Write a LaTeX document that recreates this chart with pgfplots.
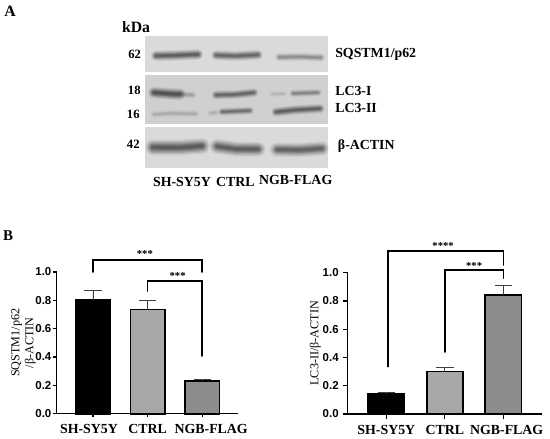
\documentclass[border=0pt]{standalone}
\usepackage{fontspec}
\setmainfont{Liberation Serif}
\newfontfamily\ticksans{Liberation Sans}
\usepackage{pgfplots}
\pgfplotsset{compat=1.18}

\definecolor{barmid}{HTML}{A8A8A8}
\definecolor{bardark}{HTML}{8C8C8C}
\definecolor{gelbg}{HTML}{DADADA}
\definecolor{gelbgb}{HTML}{D0D0D0}
\definecolor{band}{HTML}{202020}

% soft edged blot band: #1 strength, #2 thickness in pt, #3 coordinates
\newcommand{\blotband}[3]{%
  \addplot[no marks,band,opacity=0.07*#1,line width=#2*1.9,line cap=round,line join=round] coordinates {#3};
  \addplot[no marks,band,opacity=0.10*#1,line width=#2*1.6,line cap=round,line join=round] coordinates {#3};
  \addplot[no marks,band,opacity=0.13*#1,line width=#2*1.3,line cap=round,line join=round] coordinates {#3};
  \addplot[no marks,band,opacity=0.16*#1,line width=#2*1.0,line cap=round,line join=round] coordinates {#3};
  \addplot[no marks,band,opacity=0.18*#1,line width=#2*0.75,line cap=round,line join=round] coordinates {#3};
  \addplot[no marks,band,opacity=0.18*#1,line width=#2*0.5,line cap=round,line join=round] coordinates {#3};
  \addplot[no marks,band,opacity=0.16*#1,line width=#2*0.25,line cap=round,line join=round] coordinates {#3};
}

\pgfplotsset{
  barpanel/.style={
    scale only axis, clip=false,
    axis lines*=left, axis line style={line width=0.9pt,-},
    ymin=0, ymax=1,
    ytick={0,0.2,0.4,0.6,0.8,1},
    xtick={0,1,2},
    tick align=outside, major tick length=2.8pt,
    tick style={line width=0.9pt,black},
    /pgf/number format/assume math mode=true,
    /pgf/number format/fixed, /pgf/number format/fixed zerofill, /pgf/number format/precision=1,
    yticklabel style={font=\ticksans\bfseries\fontsize{8.6}{10}\selectfont, inner sep=1pt},
    xticklabel style={font=\bfseries\fontsize{10.4}{12}\selectfont, inner sep=2pt, yshift=-2.8pt},
    ylabel style={font=\fontsize{9.1}{10.6}\selectfont, align=center},
    ybar, bar shift=0pt,
  },
  barser/.style={draw=black, line width=1.25pt, fill=#1,
    error bars/.cd, y dir=plus, y explicit,
    error bar style={line width=0.7pt,color=black!75},
    error mark options={line width=0.7pt,color=black!75,mark size=6.5pt,rotate=90}},
  bracket/.style={sharp plot, no marks, fill=none, draw=black, line width=1.25pt, line cap=round, forget plot},
}
\tikzset{
  starlabel/.style={font=\bfseries\fontsize{8}{9}\selectfont},
  blottext/.style={font=\bfseries\fontsize{#1}{14}\selectfont, inner sep=0pt},
  blottext/.default=10.4,
}

\begin{document}
\begin{tikzpicture}
\path[use as bounding box] (0pt,0pt) rectangle (412.5pt,329.25pt);
% blot panel, coordinates are pixels of the figure
\begin{axis}[
  at={(0pt,0pt)}, anchor=south west,
  scale only axis, width=412.5pt, height=329.25pt,
  xmin=0, xmax=550, ymin=0, ymax=439, y dir=reverse,
  hide axis, clip=false,
]
\addplot[draw=none,fill=gelbg] coordinates {(145.3,36) (328.3,36) (328.3,72.3) (145.3,72.3)} -- cycle;
\addplot[draw=none,fill=gelbgb] coordinates {(145.3,75.3) (328.3,75.3) (328.3,124) (145.3,124)} -- cycle;
\addplot[draw=none,fill=gelbg] coordinates {(145.3,126.7) (328.3,126.7) (328.3,168.3) (145.3,168.3)} -- cycle;
% SQSTM1/p62
\blotband{1.0}{4.2pt}{(156,55.8) (175,55.4) (198,54.4)}
\blotband{0.9}{4.0pt}{(216,55.2) (235,56) (258,54.8)}
\blotband{0.5}{3.4pt}{(279,57.2) (300,56.8) (321,57.6)}
% LC3-I
\blotband{1.15}{4.6pt}{(154,92.6) (172,94) (180,94.2)}
\blotband{0.3}{3.0pt}{(184,94.6) (193,95)}
\blotband{0.85}{3.6pt}{(216,95) (235,94.6) (254,92.6)}
\blotband{0.15}{2.4pt}{(272,94) (284,93.8)}
\blotband{0.55}{3.0pt}{(293,93.4) (318,92.6)}
% LC3-II
\blotband{0.22}{3.0pt}{(154,114.4) (170,113.4) (196,113.8)}
\blotband{0.2}{2.6pt}{(210,113.2) (216,112.6)}
\blotband{0.75}{3.2pt}{(222,111.8) (250,110.6)}
\blotband{0.95}{3.8pt}{(276,112) (295,110) (320,108.6)}
% beta-actin
\blotband{1.05}{6.2pt}{(153,147.4) (180,147.6) (202,146)}
\blotband{1.0}{5.8pt}{(217,146.4) (236,149) (258,149.2)}
\blotband{0.95}{5.6pt}{(277,149.6) (300,150) (322,148.4)}
% panel text
\node[blottext=11.8] at (axis cs:10,11) {A};
\node[blottext=11.2] at (axis cs:8,236) {B};
\node[blottext=11.8] at (axis cs:136,27.5) {kDa};
\node[blottext=9.5] at (axis cs:134.7,54.3) {62};
\node[blottext=9.5] at (axis cs:134.3,90.7) {18};
\node[blottext=9.5] at (axis cs:133.3,114) {16};
\node[blottext=9.5] at (axis cs:133.3,144) {42};
\node[blottext,anchor=west] at (axis cs:335,54.3) {SQSTM1/p62};
\node[blottext,anchor=west] at (axis cs:335,90.7) {LC3-I};
\node[blottext,anchor=west] at (axis cs:335,108.3) {LC3-II};
\node[blottext,anchor=west] at (axis cs:337.7,146) {β-ACTIN};
\node[blottext] at (axis cs:182,182.3) {SH-SY5Y};
\node[blottext] at (axis cs:235.3,181.7) {CTRL};
\node[blottext] at (axis cs:295.7,180.3) {NGB-FLAG};
\end{axis}

% left bar chart
\begin{axis}[
  barpanel,
  at={(42.5pt,18.98pt)}, anchor=south west,
  width=136pt, height=106.3pt,
  xmin=-0.665, xmax=2.656,
  bar width=25.8pt,
  xticklabels={\hspace*{-6pt}SH-SY5Y,CTRL,\hspace*{13.5pt}NGB-FLAG},
  ylabel={SQSTM1/p62\\/β-ACTIN},
  ylabel shift=-5pt,
]
\addplot[barser=black] coordinates {(0,0.80) +- (0,0.07)};
\addplot[barser=barmid] coordinates {(1,0.735) +- (0,0.067)};
\addplot[barser=bardark] coordinates {(2,0.23) +- (0,0.012)};
\addplot[bracket] coordinates {(0,1.0) (0,1.085) (2,1.085) (2,1.0)};
\addplot[bracket] coordinates {(1,0.866) (1,0.936) (2,0.936) (2,0.407)};
\node[starlabel] at (axis cs:0.95,1.125) {***};
\node[starlabel] at (axis cs:1.55,0.975) {***};
\end{axis}

% right bar chart
\begin{axis}[
  barpanel,
  at={(260.8pt,18.75pt)}, anchor=south west,
  width=145.5pt, height=106pt,
  xmin=-0.66, xmax=2.656,
  bar width=27.2pt,
  xticklabels={SH-SY5Y,CTRL,\hspace*{5pt}NGB-FLAG},
  yticklabel style={xshift=-1.8pt},
  major tick length=3.8pt,
  ylabel={LC3-II/β-ACTIN},
  ylabel shift=-3.2pt,
]
\addplot[barser=black] coordinates {(0,0.14) +- (0,0.015)};
\addplot[barser=barmid] coordinates {(1,0.30) +- (0,0.03)};
\addplot[barser=bardark] coordinates {(2,0.84) +- (0,0.07)};
\addplot[bracket] coordinates {(0.03,0.335) (0.03,1.154) (2,1.154) (2,1.054)};
\addplot[bracket] coordinates {(1,0.439) (1,1.019) (2,1.019) (2,0.96)};
\node[starlabel] at (axis cs:0.97,1.19) {****};
\node[starlabel] at (axis cs:1.5,1.05) {***};
\end{axis}
\end{tikzpicture}
\end{document}
